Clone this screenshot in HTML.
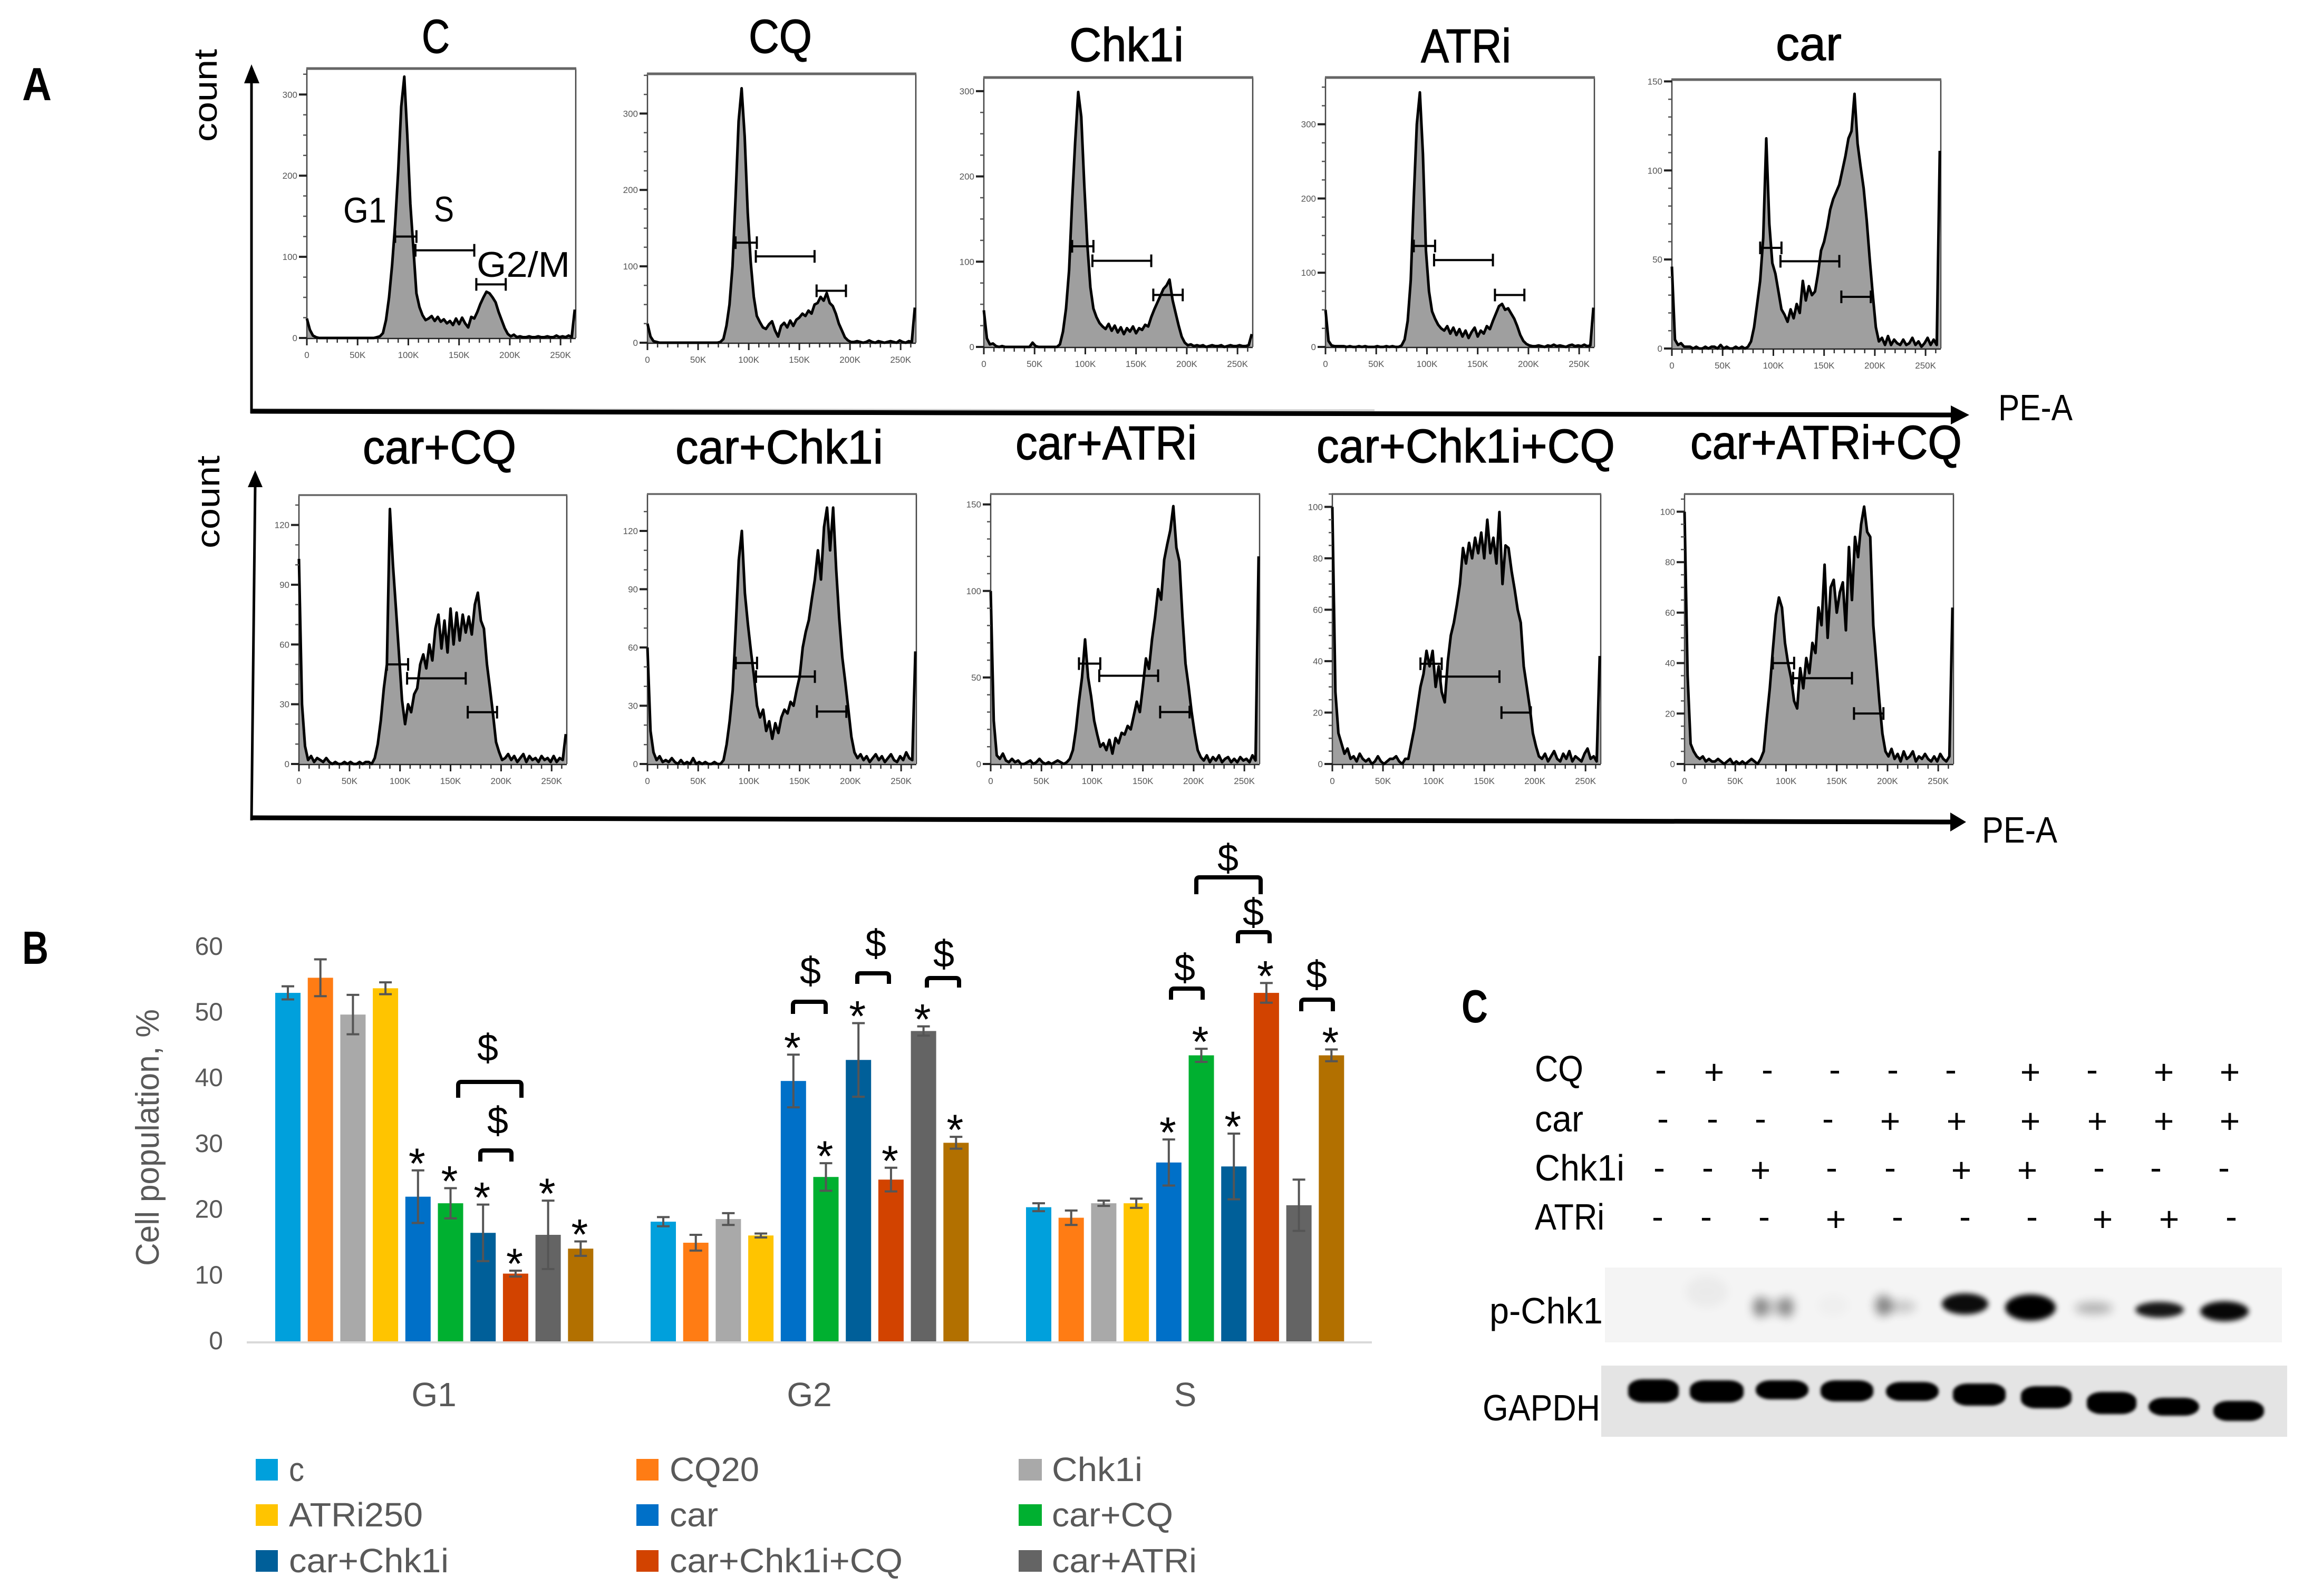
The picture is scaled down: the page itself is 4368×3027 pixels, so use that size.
<!DOCTYPE html>
<html lang="en">
<head>
<meta charset="utf-8">
<title>Cell cycle flow cytometry, population bars and p-Chk1 western blot</title>
<style>
html,body{margin:0;padding:0;background:#fff;width:4368px;height:3027px;overflow:hidden}
svg{display:block}
text{font-family:"Liberation Sans",sans-serif}
</style>
</head>
<body>
<svg id="fig" xmlns="http://www.w3.org/2000/svg" width="4368" height="3027" viewBox="0 0 4368 3027">
  <defs>
    <filter id="softBand" x="-40%" y="-80%" width="180%" height="260%"><feGaussianBlur stdDeviation="5"/></filter>
    <filter id="faintBand" x="-60%" y="-100%" width="220%" height="300%"><feGaussianBlur stdDeviation="9"/></filter>
    <filter id="soft" x="-10%" y="-20%" width="120%" height="140%"><feGaussianBlur stdDeviation="3"/></filter>
  </defs>
  <rect width="4368" height="3027" fill="#fff"/>
  <text x="42" y="190" font-size="88" font-weight="700" textLength="56" lengthAdjust="spacingAndGlyphs">A</text>
  <text x="42" y="1828" font-size="88" font-weight="700" textLength="50" lengthAdjust="spacingAndGlyphs">B</text>
  <text x="2772" y="1939" font-size="88" font-weight="700" textLength="50" lengthAdjust="spacingAndGlyphs">C</text>

  <g>
    <line x1="480" y1="776" x2="2607" y2="778" stroke="#c9c9c9" stroke-width="3"/>
    <line x1="477" y1="784" x2="477" y2="150" stroke="#000" stroke-width="5"/>
    <polygon points="477,122 463,158 492,158" fill="#000"/>
    <line x1="475" y1="780" x2="3705" y2="787" stroke="#000" stroke-width="9"/>
    <polygon points="3735,787 3700,769 3700,805" fill="#000"/>
    <text transform="translate(411,269) rotate(-90)" font-size="62" textLength="176" lengthAdjust="spacingAndGlyphs">count</text>
    <text x="3790" y="797" font-size="70" textLength="141" lengthAdjust="spacingAndGlyphs">PE-A</text>
  </g>
  <g>
    <line x1="477" y1="1556" x2="484" y2="920" stroke="#000" stroke-width="5"/>
    <polygon points="484,892 470,924 498,924" fill="#000"/>
    <line x1="475" y1="1551" x2="3705" y2="1559" stroke="#000" stroke-width="9"/>
    <polygon points="3729,1559 3699,1541 3699,1577" fill="#000"/>
    <text transform="translate(416,1040) rotate(-90)" font-size="62" textLength="176" lengthAdjust="spacingAndGlyphs">count</text>
    <text x="3759" y="1598" font-size="70" textLength="143" lengthAdjust="spacingAndGlyphs">PE-A</text>
  </g>

  <g id="histograms"></g>

  <g>
    <text x="651" y="422" font-size="68" textLength="82" lengthAdjust="spacingAndGlyphs">G1</text>
    <text x="823" y="420" font-size="68" textLength="38" lengthAdjust="spacingAndGlyphs">S</text>
    <text x="904" y="525" font-size="68" textLength="177" lengthAdjust="spacingAndGlyphs">G2/M</text>
  </g>

  <g id="barchart"></g>
  <g id="blot"></g>
</svg>

<script>
// ---------- Panel A: flow cytometry histogram data ----------
const histTitles = ["C","CQ","Chk1i","ATRi","car","car+CQ","car+Chk1i","car+ATRi","car+Chk1i+CQ","car+ATRi+CQ"];
const binWidthK = 3;
const histXTicks = [0,50,100,150,200,250];
const histXTickLabels = ["0","50K","100K","150K","200K","250K"];
const histYTicks = [[0,100,200,300],[0,100,200,300],[0,100,200,300],[0,100,200,300],[0,50,100,150],[0,30,60,90,120],[0,30,60,90,120],[0,50,100,150],[0,20,40,60,80,100],[0,20,40,60,80,100]];
const histYMax = [332,352,316,363,151,135,139,156,105,107];
const histYMinorStep = [25,25,25,25,10,10,10,10,5,5];
const gateRangesK = [[87,108],[107,165],[167,196]];
const gateLevels = [[125,108,66],[131,113,68],[118,101,61],[136,117,70],[56.5,49,29],[50,43,26],[52,45,27],[58,51,30],[39,34,20],[40,34,20]];

const countsC = [24,10,3,1,0,0,0,0,0,0,
0,0,0,0,0,0,0,0,0,0,
0,0,0,1,2,6,22,50,90,140,
205,285,322,250,165,110,55,38,28,22,
24,27,21,26,20,23,18,21,16,24,
17,25,18,13,26,24,32,42,50,57,
55,50,44,32,22,12,5,2,4,1,
2,1,1,2,1,1,2,1,1,2,
1,1,3,1,2,1,3,1,35];
const countsCQ = [25,8,2,1,0,0,0,0,0,0,
0,0,0,0,0,0,0,0,0,0,
0,0,0,0,1,5,22,50,100,190,
290,333,270,170,105,60,35,27,20,18,
24,28,16,8,22,26,20,29,22,30,
33,38,35,42,38,50,52,60,55,65,
52,48,38,25,16,7,3,1,1,2,
1,0,1,3,1,0,2,1,0,1,
2,1,0,3,1,0,2,1,46];
const countsChk1i = [43,10,3,4,1,0,1,0,0,0,
0,0,0,0,0,0,5,1,0,0,
0,0,0,0,0,3,18,45,90,170,
240,299,270,190,120,70,45,35,28,24,
21,27,19,25,17,23,15,22,18,24,
16,22,20,26,24,35,44,52,60,68,
72,79,55,40,25,12,5,2,3,1,
2,1,2,0,1,2,1,1,2,0,
1,2,1,1,2,1,1,2,15];
const countsATRi = [50,8,2,1,1,1,1,0,1,0,
0,1,0,1,0,0,0,1,0,0,
1,0,1,0,0,2,10,35,90,200,
300,343,260,130,75,48,38,30,25,22,
28,18,26,16,24,14,22,12,20,26,
14,22,18,28,24,35,45,55,58,50,
52,45,38,28,16,8,4,2,1,1,
2,1,0,2,1,3,1,2,1,0,
2,3,1,2,1,3,1,2,53];
const countsCar = [46,5,2,3,1,1,1,0,1,0,
0,1,0,1,1,0,2,0,1,0,
0,1,0,1,0,1,4,12,25,38,
62,118,70,48,42,32,22,19,15,22,
17,25,20,38,27,35,30,32,42,55,
60,68,78,84,88,92,100,108,118,122,
143,115,102,90,72,50,30,12,4,6,
2,7,2,5,3,2,5,2,3,6,
2,4,1,3,6,2,5,2,111];
const countsCarCQ = [103,30,9,2,4,1,3,2,1,3,
1,0,1,0,0,1,0,1,0,0,
1,0,1,1,0,3,10,22,38,50,
128,100,78,55,32,20,30,26,35,38,
50,55,48,60,52,68,75,58,72,56,
78,60,76,62,75,66,74,65,80,86,
72,68,50,38,25,11,6,2,3,5,
2,4,1,3,5,1,4,2,3,1,
4,2,3,1,4,1,3,2,15];
const countsCarChk1i = [60,17,6,2,4,1,2,1,3,1,
0,2,0,1,0,3,0,1,0,1,
0,0,1,0,0,2,10,22,38,70,
105,120,88,72,58,45,30,24,28,17,
22,13,21,16,24,28,26,32,30,38,
45,60,68,74,85,95,110,95,122,132,
110,132,100,75,55,42,28,14,6,3,
5,2,4,1,3,5,2,4,1,3,
5,2,1,4,2,6,3,2,58];
const countsCarATRi = [100,25,5,3,6,2,1,3,1,2,
0,0,1,2,0,1,3,1,0,1,
0,1,2,1,0,1,3,8,20,36,
50,72,50,39,25,17,10,12,8,14,
6,15,12,18,17,22,20,28,36,30,
45,61,55,72,85,101,95,118,127,135,
149,125,117,85,58,45,30,18,8,4,
2,5,1,4,2,5,1,3,4,1,
3,1,4,2,3,1,5,2,120];
const countsCarChk1iCQ = [100,28,12,8,4,6,2,3,1,4,
2,1,2,0,1,3,1,0,1,2,
2,3,1,0,2,2,8,14,22,30,
35,44,38,44,30,38,28,24,40,50,
55,62,70,84,78,86,80,88,82,90,
80,95,82,88,78,98,70,85,84,75,
68,60,55,38,30,22,12,7,3,2,
4,1,3,5,2,1,4,2,5,1,
3,2,1,4,6,2,3,1,42];
const countsCarATRiCQ = [100,35,8,5,3,2,3,1,2,1,
1,2,1,0,1,2,0,1,0,1,
0,1,2,1,0,2,5,18,30,45,
59,66,62,48,40,34,25,22,38,30,
42,36,48,44,62,55,79,50,70,73,
60,68,72,53,86,65,90,82,95,102,
92,90,55,40,25,12,5,3,6,2,
4,1,5,2,3,5,1,3,2,4,
2,1,3,1,4,2,1,3,62];
const histCounts = [countsC,countsCQ,countsChk1i,countsATRi,countsCar,countsCarCQ,countsCarChk1i,countsCarATRi,countsCarChk1iCQ,countsCarATRiCQ];

// ---------- Panel B: bar chart data ----------
const barCategories = ["G1","G2","S"];
const barSeries = ["c","CQ20","Chk1i","ATRi250","car","car+CQ","car+Chk1i","car+Chk1i+CQ","car+ATRi","car+ATRi+CQ"];
const barTicks = [0,10,20,30,40,50,60];
const valuesG1 = [53,55.3,49.7,53.7,22,21,16.5,10.3,16.2,14.1];
const valuesG2 = [18.2,15,18.6,16.1,39.6,25,42.8,24.6,47.2,30.2];
const valuesS = [20.4,18.8,21,21,27.2,43.5,26.6,53,20.7,43.5];
const errorsG1 = [1,2.8,3,0.9,4,2.3,4.3,0.45,5.2,1.1];
const errorsG2 = [0.7,1.2,0.9,0.3,4,2.1,5.6,1.8,0.7,0.9];
const errorsS = [0.6,1.1,0.4,0.7,3.5,1,5,1.5,3.9,0.9];
const starsG1 = [0,0,0,0,1,1,1,1,1,1];
const starsG2 = [0,0,0,0,1,1,1,1,1,1];
const starsS = [0,0,0,0,1,1,1,1,0,1];

// ---------- Panel C: treatment grid ----------
const gridRows = ["CQ","car","Chk1i","ATRi"];
const signsCQ = ["-","+","-","-","-","-","+","-","+","+"];
const signsCar = ["-","-","-","-","+","+","+","+","+","+"];
const signsChk1i = ["-","-","+","-","-","+","+","-","-","-"];
const signsATRi = ["-","-","-","+","-","-","-","+","+","-"];
const gridSigns = [signsCQ,signsCar,signsChk1i,signsATRi];

// ---------- Layout (not data) ----------
const frameL = [582,1228,1866,2514,3171,567,1228,1879,2527,3195];
const frameR = [1092,1737,2376,3024,3681,1075,1738,2389,3036,3705];
const frameT = [130,140,147,147,151,939,937,937,937,937];
const frameB = [641,650,658,658,661,1449,1449,1449,1449,1449];
const titleL = [800,1420,2028,2695,3368,688,1281,1926,2497,3206];
const titleW = [53,120,217,171,125,291,394,344,566,515];
const titleBase = [100,100,116,118,114,879,879,871,877,870];
const NS = "http://www.w3.org/2000/svg";

function mk(tag, attrs, parent, str){
  const e = document.createElementNS(NS, tag);
  for (const k in attrs) e.setAttribute(k, attrs[k]);
  if (str !== undefined) e.textContent = str;
  parent.appendChild(e);
  return e;
}
function slug(s){ return s.toLowerCase().replace(/\+/g,'-'); }

// ---------- Draw histograms ----------
const histRoot = document.getElementById('histograms');
histTitles.forEach(function(title, p){
  const L = frameL[p], R = frameR[p], T = frameT[p], B = frameB[p];
  const kPx = (R - L) / 265;
  const vPx = (B - T) / histYMax[p];
  const xS = function(k){ return L + k * kPx; };
  const yS = function(v){ return B - v * vPx; };
  const name = slug(title);

  const g = mk('g', {}, histRoot);
  
  

  const t = mk('text', {x:titleL[p], y:titleBase[p], 'font-size':90, stroke:'#000', 'stroke-width':1.2, textLength:titleW[p], lengthAdjust:'spacingAndGlyphs'}, g, title);
  
  

  // filled distribution
  const counts = histCounts[p];
  let line = '';
  counts.forEach(function(c, i){
    line += (i ? 'L' : 'M') + xS(i * binWidthK).toFixed(1) + ' ' + yS(c).toFixed(1);
  });
  const lastX = xS((counts.length - 1) * binWidthK);
  const area = mk('path', {d: line + 'L' + lastX.toFixed(1) + ' ' + B + 'L' + L + ' ' + B + 'Z', fill:'#9f9f9f', stroke:'none'}, g);
  
  

  // frame
  const frame = mk('path', {d:'M'+L+' '+B+'V'+T+'M'+R+' '+B+'V'+T, fill:'none', stroke:'#444', 'stroke-width':2.5}, g);
  
  
  const top = mk('line', {x1:L-1, y1:T, x2:R+1, y2:T, stroke:'#666', 'stroke-width':p < 5 ? 5 : 3.5}, g);
  
  
  const bottom = mk('line', {x1:L, y1:B+1, x2:R, y2:B+1, stroke:'#222', 'stroke-width':2.5}, g);
  
  

  const outline = mk('path', {d:line, fill:'none', stroke:'#000', 'stroke-width':5, 'stroke-linejoin':'round'}, g);
  
  

  // x ticks
  let minor = '';
  for (let k = 0; k <= 260; k += 10) minor += 'M' + xS(k).toFixed(1) + ' ' + (B+2) + 'v7';
  const minorX = mk('path', {d:minor, stroke:'#333', 'stroke-width':2.5, fill:'none'}, g);
  
  
  histXTicks.forEach(function(k, i){
    const tk = mk('line', {x1:xS(k), y1:B+2, x2:xS(k), y2:B+14, stroke:'#222', 'stroke-width':3}, g);
    
    
    const lb = mk('text', {x:xS(k), y:B+38, 'font-size':17, fill:'#555', 'text-anchor':'middle'}, g, histXTickLabels[i]);
    
    
  });

  // y ticks
  let minorY = '';
  for (let v = 0; v <= histYMax[p]; v += histYMinorStep[p]) minorY += 'M' + L + ' ' + yS(v).toFixed(1) + 'h-7';
  const minY = mk('path', {d:minorY, stroke:'#555', 'stroke-width':2.5, fill:'none'}, g);
  
  
  histYTicks[p].forEach(function(v){
    const tk = mk('line', {x1:L, y1:yS(v), x2:L-15, y2:yS(v), stroke:'#222', 'stroke-width':4}, g);
    
    
    const lb = mk('text', {x:L-18, y:yS(v)+6, 'font-size':17, fill:'#555', 'text-anchor':'end'}, g, String(v));
    
    
  });

  // gates
  gateRangesK.forEach(function(r, i){
    const y = yS(gateLevels[p][i]);
    const a = xS(r[0]), b = xS(r[1]);
    const gate = mk('path', {d:'M'+a+' '+(y-12)+'v24M'+b+' '+(y-12)+'v24M'+a+' '+y+'H'+b, stroke:'#000', 'stroke-width':4, fill:'none'}, g);
    
    
  });
});

// ---------- Draw bar chart ----------
const barRoot = document.getElementById('barchart');
const barColors = ["#00A0DC","#FF7C14","#A9A9A9","#FFC400","#0070C8","#00B030","#005F99","#D24300","#646464","#B27000"];
const barValues = [valuesG1,valuesG2,valuesS];
const barErrors = [errorsG1,errorsG2,errorsS];
const barStars = [starsG1,starsG2,starsS];
const zeroY = 2544, unitPx = 12.47, firstBar = 522, groupStep = 712, barStep = 61.7, barW = 48;
const barY = function(v){ return zeroY - v * unitPx; };
const barX = function(g, s){ return firstBar + g * groupStep + s * barStep; };

barTicks.forEach(function(v){
  const tl = mk('text', {x:423, y:barY(v)+15, 'font-size':48, fill:'#595959', 'text-anchor':'end'}, barRoot, String(v));
  
  
});
const yTitle = mk('text', {transform:'translate(301,2401) rotate(-90)', 'font-size':62, fill:'#595959', textLength:487, lengthAdjust:'spacingAndGlyphs'}, barRoot, 'Cell population, %');


const catCenters = [823,1535,2248];
barCategories.forEach(function(c, g){
  const ct = mk('text', {x:catCenters[g], y:2667, 'font-size':64, fill:'#595959', 'text-anchor':'middle'}, barRoot, c);
  
  
  barValues[g].forEach(function(v, s){
    const x = barX(g, s);
    const b = mk('rect', {x:x, y:barY(v), width:barW, height:v * unitPx, fill:barColors[s]}, barRoot);
    
    
    const e = barErrors[g][s], cx = x + barW / 2;
    const eb = mk('path', {d:'M'+cx+' '+barY(v+e)+'V'+barY(v-e)+'M'+(cx-12)+' '+barY(v+e)+'h24M'+(cx-12)+' '+barY(v-e)+'h24', stroke:'#555', 'stroke-width':4, fill:'none'}, barRoot);
    
    
    if (barStars[g][s]) {
      const st = mk('text', {x:cx-2, y:barY(v+e)+15, 'font-size':82, fill:'#000', 'text-anchor':'middle'}, barRoot, '*');
      
      
    }
  });
});
const baseline = mk('line', {x1:468, y1:2546, x2:2602, y2:2546, stroke:'#d9d9d9', 'stroke-width':4}, barRoot);



// significance brackets: left, right, top, bottom, dollar x, dollar centre y (annotation layout)
const bracketBoxes = [
  [869,989,2052,2082,925,1987],[911,970,2182,2203,944,2125],
  [1504,1566,1900,1923,1537,1841],[1626,1686,1846,1866,1661,1789],[1758,1819,1855,1873,1790,1809],
  [2221,2281,1875,1896,2247,1835],[2269,2391,1664,1696,2329,1627],[2348,2408,1768,1789,2377,1730],[2468,2528,1896,1918,2497,1848]
];
bracketBoxes.forEach(function(q){
  const a=q[0], b=q[1], t=q[2], u=q[3];
  const br = mk('path', {d:'M'+a+' '+u+'V'+(t+6)+'Q'+a+' '+t+' '+(a+6)+' '+t+'H'+(b-6)+'Q'+b+' '+t+' '+b+' '+(t+6)+'V'+u, fill:'none', stroke:'#000', 'stroke-width':8}, barRoot);
  
  
  const d = mk('text', {x:q[4], y:q[5]+25, 'font-size':72, fill:'#000', 'text-anchor':'middle'}, barRoot, '$');
  
  
});

// legend
const legendX = [485,1207,1932];
const legendY = [2767,2853,2940];
const legendW = [[29,170,172],[254,92,230],[303,442,275]];
barSeries.slice(0,9).forEach(function(nameText, i){
  const col = i % 3, row = Math.floor(i / 3);
  const sw = mk('rect', {x:legendX[col], y:legendY[row], width:col === 2 ? 44 : 42, height:41, fill:barColors[i]}, barRoot);
  
  
  const lt = mk('text', {x:legendX[col] + 63, y:legendY[row] + 42, 'font-size':64, fill:'#595959', textLength:legendW[row][col], lengthAdjust:'spacingAndGlyphs'}, barRoot, nameText);
  
  
});

// ---------- Draw western blot ----------
const blotRoot = document.getElementById('blot');
const laneXByRow = [
  [3150,3251,3352,3480,3590,3700,3851,3968,4104,4229],
  [3154,3248,3339,3467,3585,3711,3851,3978,4104,4229],
  [3147,3239,3339,3474,3585,3720,3845,3981,4089,4218],
  [3144,3236,3346,3482,3599,3727,3854,3988,4114,4232]
];
const gridRowY = [2033,2126,2219,2312];
const gridLabelBase = [2051,2146,2239,2332];
const gridLabelW = [92,92,170,132];
gridRows.forEach(function(r, i){
  const lb = mk('text', {x:2911, y:gridLabelBase[i], 'font-size':70, textLength:gridLabelW[i], lengthAdjust:'spacingAndGlyphs'}, blotRoot, r);
  
  
  gridSigns[i].forEach(function(sg, l){
    const s = mk('text', {x:laneXByRow[i][l], y:gridRowY[i] + (sg === '+' ? 23 : 18), 'font-size':66, 'text-anchor':'middle'}, blotRoot, sg);
    
    
  });
});

const pBox = mk('rect', {x:3044, y:2404, width:1284, height:142, fill:'#f4f4f4'}, blotRoot);


const gBox = mk('rect', {x:3037, y:2590, width:1301, height:135, fill:'#e4e4e4'}, blotRoot);



// p-Chk1 bands: cx, cy, rx, ry, opacity
const pBands = [
  [3237,2450,40,30,.035],[3477,2476,30,20,.02],
  [3338,2479,14,20,.36],[3389,2479,14,20,.36],[3362,2479,30,16,.18],
  [3572,2476,16,20,.42],[3604,2478,30,12,.18],
  [3971,2481,36,11,.28]
];
pBands.forEach(function(b){
  const e = mk('ellipse', {cx:b[0], cy:b[1], rx:b[2], ry:b[3], fill:'#000', opacity:b[4], filter:'url(#faintBand)'}, blotRoot);
  
  
});
const pStrong = [[3727,2473,44,20,.95],[3851,2480,48,25,1],[4096,2484,46,15,.9],[4219,2487,46,19,.97]];
pStrong.forEach(function(b){
  const e = mk('ellipse', {cx:b[0], cy:b[1], rx:b[2], ry:b[3], fill:'#000', opacity:b[4], filter:'url(#softBand)'}, blotRoot);
  
  
});
// GAPDH bands: cx, cy, half width, half height
const gapdhBands = [[3136,2638,48,21],[3256,2639,51,20],[3380,2636,50,17],[3503,2638,50,19],[3627,2639,50,17],[3754,2645,50,20],[3881,2650,48,20],[4005,2661,47,20],[4123,2668,48,16],[4246,2676,48,18]];
gapdhBands.forEach(function(b){
  const e = mk('rect', {x:b[0]-b[2], y:b[1]-b[3]-1, width:2*b[2], height:2*b[3]+2, rx:28, ry:17, fill:'#000', filter:'url(#soft)'}, blotRoot);
  
  
});
const pLabel = mk('text', {x:2825, y:2510, 'font-size':70, textLength:215, lengthAdjust:'spacingAndGlyphs'}, blotRoot, 'p-Chk1');


const gLabel = mk('text', {x:2812, y:2694, 'font-size':70, textLength:223, lengthAdjust:'spacingAndGlyphs'}, blotRoot, 'GAPDH');


</script>
</body>
</html>
